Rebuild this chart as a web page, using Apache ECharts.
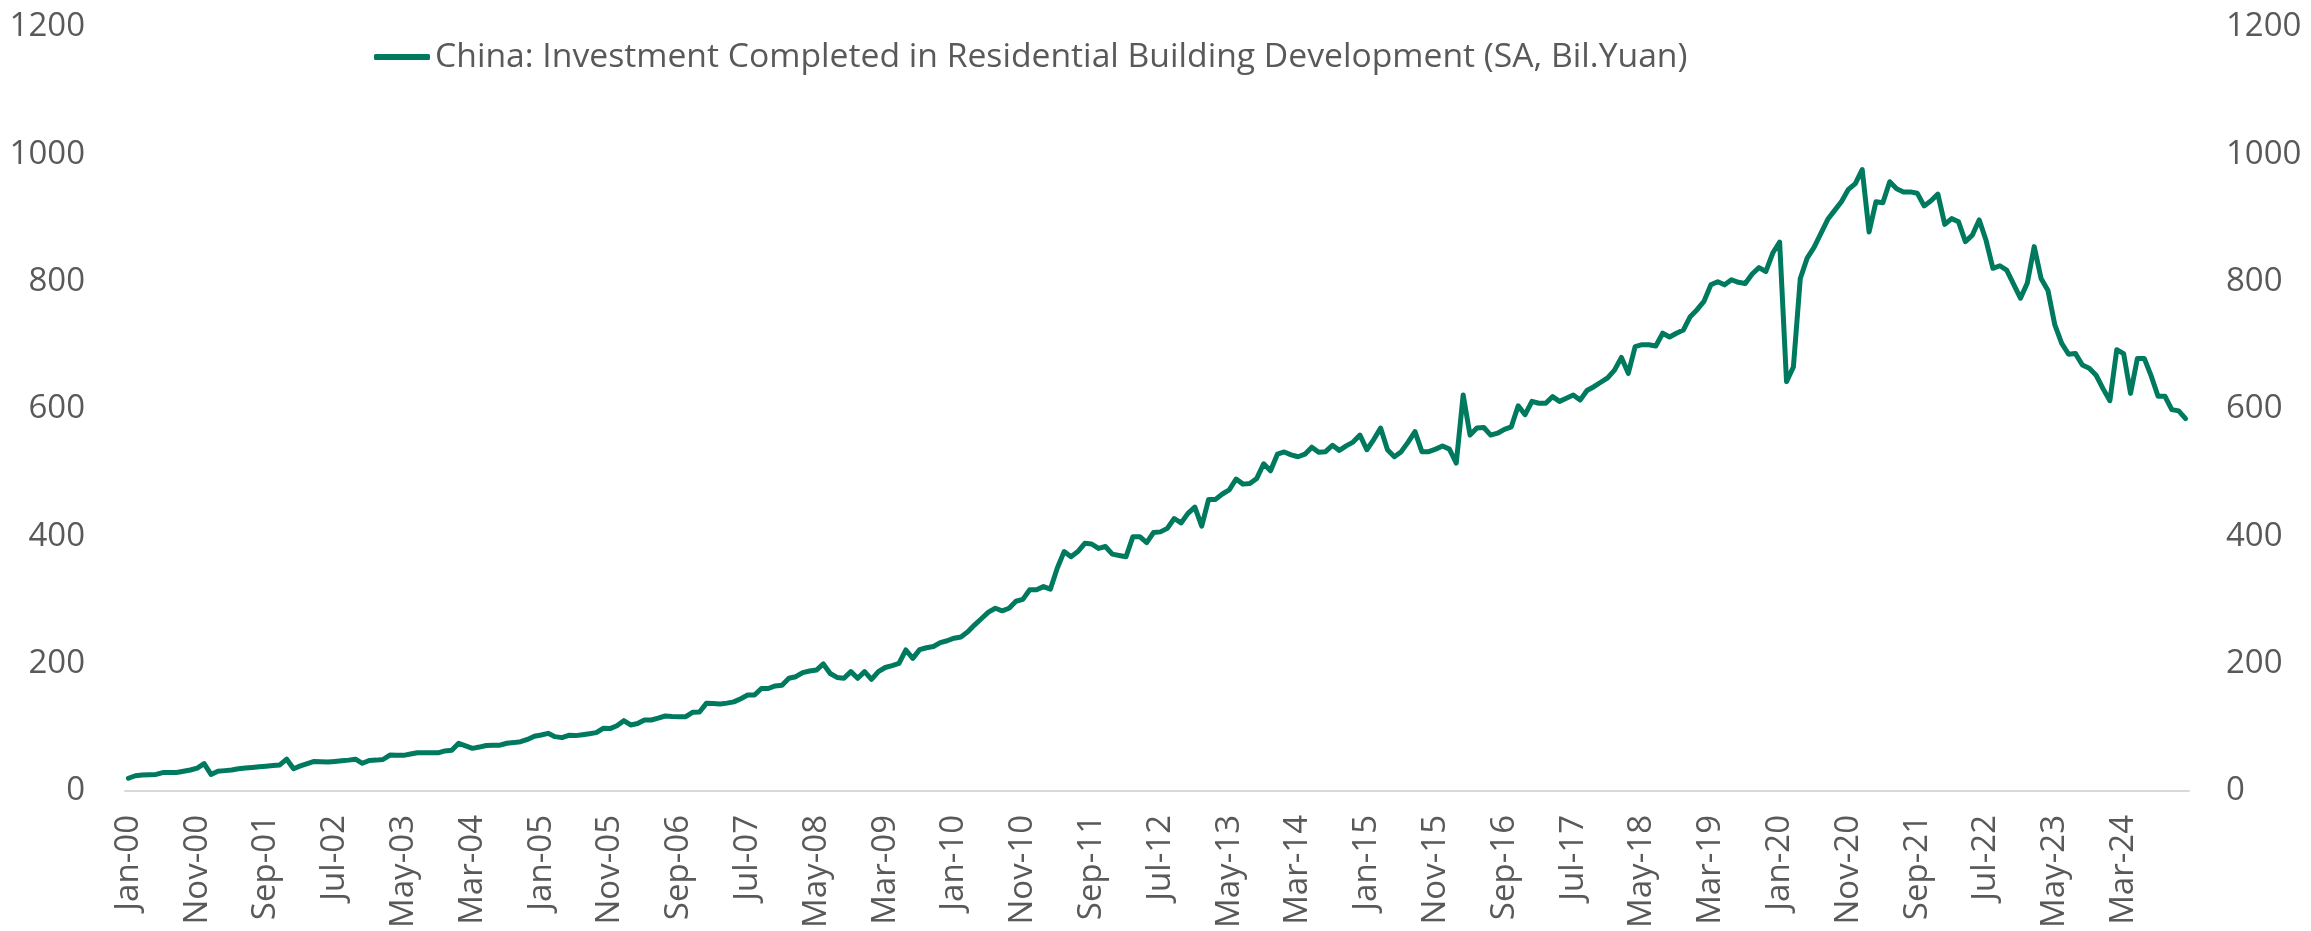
<!DOCTYPE html>
<html>
<head>
<meta charset="utf-8">
<title>China residential investment</title>
<script src="https://cdn.jsdelivr.net/npm/echarts@6/dist/echarts.min.js"></script>
<style>
  html, body { margin: 0; padding: 0; background: #fff; }
  #chart { width: 2311px; height: 931px; }
</style>
</head>
<body>
<div id="chart"></div>
<script>
// category labels: Jan-00 ... Dec-24
var monthNames = ["Jan","Feb","Mar","Apr","May","Jun","Jul","Aug","Sep","Oct","Nov","Dec"];
var firstYear = 2000, lastYear = 2024;

var seriesName = "China: Investment Completed in Residential Building Development (SA, Bil.Yuan)";

// monthly values, Bil.Yuan (one row per year)
var investment = [
  20, 24, 25, 25.5, 26, 29, 29, 29, 31, 33, 36, 43,                 // 2000
  26, 31, 32, 33, 35, 36, 37, 38, 39, 40, 41, 50,                   // 2001
  35, 39.5, 43, 46.5, 46, 45.5, 46.5, 47.5, 48.5, 50, 43.5, 48,     // 2002
  48.5, 49.5, 56.5, 56, 56, 58, 60, 60, 60, 60, 63, 64,             // 2003
  75, 71, 67, 69, 71.5, 72, 72, 75, 76, 77.5, 81, 86,               // 2004
  88, 90.6, 85.4, 83.8, 87.5, 87, 88.5, 90, 91.7, 98.5, 98, 102.6,  // 2005
  110.5, 103.7, 106, 111.5, 111.5, 114.5, 117.8, 117, 116.7, 116.7, 123.5, 124, // 2006
  137.7, 137.5, 136.6, 138, 140, 145, 150.7, 150.7, 161, 161, 165, 166,         // 2007
  177, 179.5, 186, 188.5, 190, 199.5, 184.6, 178.4, 177, 187.5, 177, 187.5,     // 2008
  175.4, 187.5, 194, 197, 200.5, 221.5, 208.3, 222, 225, 227, 233, 236,         // 2009
  240, 242, 250, 261, 271, 281, 287, 283, 287, 298, 301, 316,       // 2010
  316, 321, 317, 350, 376, 368, 376, 389, 388, 381, 384, 372,       // 2011
  370, 368, 399.5, 399.5, 390, 406, 407, 412.5, 428, 421, 436, 446, // 2012
  416, 458, 458, 466.5, 473, 490, 482, 483, 491, 514, 503, 529,     // 2013
  532.5, 528, 525, 529, 540, 532, 533, 543, 535, 542, 548, 559,     // 2014
  536, 552, 570, 536, 525, 533, 548, 564.5, 533, 533, 537, 542,     // 2015
  537, 515, 622, 559, 570, 571, 559, 562, 568, 572, 605, 591,       // 2016
  612, 609, 609, 619.5, 612, 617, 622, 614, 629, 635, 642, 649,     // 2017
  661, 681, 656, 698, 701, 701, 699, 719, 713, 719, 724, 745,       // 2018
  756, 769, 795, 800, 795, 803, 799, 797, 812, 822, 816, 845,       // 2019
  862, 643, 666, 805, 837, 854, 876, 898, 912, 926, 945, 954,       // 2020
  976, 878, 925.5, 924, 957, 946, 941, 941, 939, 919, 927, 937.5,   // 2021
  890, 899, 894, 863, 873, 897, 865, 821, 825, 818, 796, 774,       // 2022
  798, 855, 805, 786, 732, 703, 686, 687, 669, 664, 653, 632,       // 2023
  613, 693, 687, 624.5, 679.5, 679.5, 652, 620, 620, 599, 597, 585  // 2024
];

var yTicks = { min: 0, max: 1200, step: 200 };

var categories = [];
for (var y = firstYear; y <= lastYear; y++) {
  monthNames.forEach(function (m) {
    categories.push(m + "-" + String(y).slice(2));
  });
}

var textGrey = "#595959";
var lineGreen = "#007a5e";
var fontFam = "'Open Sans', 'Noto Sans', sans-serif";

var chart = echarts.init(document.getElementById("chart"));

// plain numbers on the value axes, no thousands separator
function plainNum(v) { return String(v); }

var yAxisCommon = {
  type: "value",
  min: yTicks.min,
  max: yTicks.max,
  interval: yTicks.step,
  axisLine: { show: false },
  axisTick: { show: false },
  splitLine: { show: false }
};

var option = {
  animation: false,
  backgroundColor: "#ffffff",
  grid: {
    left: 125,
    right: 122,
    top: 27,
    bottom: 140,
    outerBoundsMode: "none"
  },
  legend: {
    left: 369,
    top: 35,
    icon: "roundRect",
    itemWidth: 56,
    itemHeight: 6,
    itemGap: 10,
    textStyle: { color: textGrey, fontSize: 33.7, fontFamily: fontFam },
    data: [seriesName]
  },
  xAxis: {
    type: "category",
    data: categories,
    boundaryGap: true,
    axisLine: { lineStyle: { color: "#d9d9d9", width: 2 } },
    axisTick: {
      interval: 9,
      length: 11,
      lineStyle: { color: "#d9d9d9", width: 2 }
    },
    axisLabel: {
      interval: 9,
      rotate: 90,
      margin: 24,
      color: textGrey,
      fontSize: 33,
      fontFamily: fontFam
    },
    splitLine: { show: false }
  },
  yAxis: [
    Object.assign({}, yAxisCommon, {
      position: "left",
      axisLabel: { margin: 40, color: textGrey, fontSize: 33, fontFamily: fontFam, formatter: plainNum }
    }),
    Object.assign({}, yAxisCommon, {
      position: "right",
      axisLabel: { margin: 37, color: textGrey, fontSize: 33, fontFamily: fontFam, formatter: plainNum }
    })
  ],
  series: [{
    name: seriesName,
    type: "line",
    yAxisIndex: 0,
    data: investment,
    symbol: "none",
    smooth: false,
    itemStyle: { color: lineGreen },
    lineStyle: { color: lineGreen, width: 5, cap: "round", join: "round" }
  }]
};

chart.setOption(option);
</script>
</body>
</html>
